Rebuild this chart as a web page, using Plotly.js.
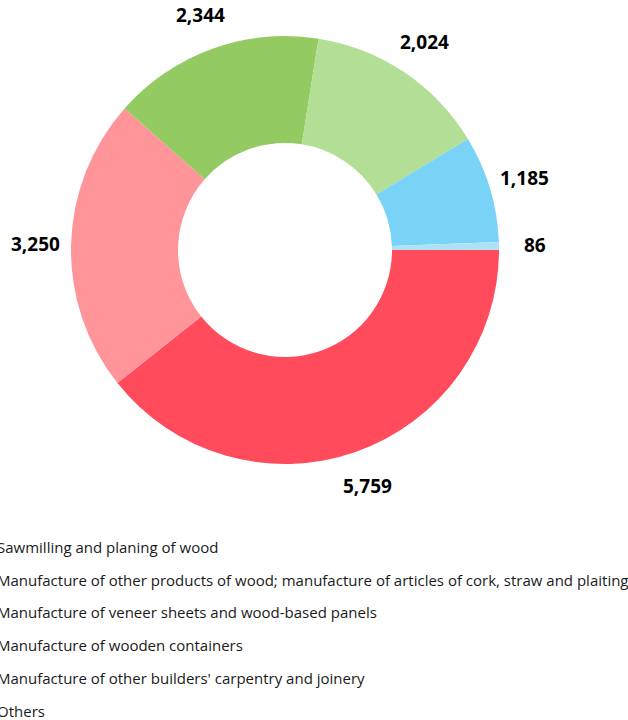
<!DOCTYPE html>
<html>
<head>
<meta charset="utf-8">
<script src="https://cdn.plot.ly/plotly-3.0.1.min.js"></script>
<style>html,body{margin:0;padding:0;background:#fff;} #chart{width:628px;height:720px;}</style>
</head>
<body>
<div id="chart"></div>
<script>
const labels = [
  "Sawmilling and planing of wood",
  "Manufacture of other products of wood; manufacture of articles of cork, straw and plaiting materials",
  "Manufacture of veneer sheets and wood-based panels",
  "Manufacture of wooden containers",
  "Manufacture of other builders' carpentry and joinery",
  "Others"
];
const values = [5759, 3250, 2344, 2024, 1185, 86];
const colors = ["#FF4B5C", "#FF9599", "#93CB62", "#B2DE95", "#79D3F7", "#AEE1F3"];

const W = 628, H = 720;
const cx = 285, cy = 250, R = 214;
const labelR = 250;
const startDeg = 90;
const legendTop = 547, legendStep = 32.7, legendX = -5;

const trace = {
  type: "pie",
  labels: labels,
  values: values,
  sort: false,
  direction: "clockwise",
  rotation: startDeg,
  hole: 0.5,
  marker: {colors: colors, line: {color: "#ffffff", width: 0}},
  textinfo: "none",
  showlegend: false,
  hoverinfo: "label+value",
  domain: {x: [(cx - R) / W, (cx + R) / W], y: [1 - (cy + R) / H, 1 - (cy - R) / H]}
};

// value labels placed on each slice's mid-angle, outside the ring
const total = values.reduce((a, b) => a + b, 0);
let cum = 0;
const valueAnnots = values.map(v => {
  const mid = startDeg + (cum + v / 2) / total * 360;
  cum += v;
  const a = mid * Math.PI / 180;
  const px = cx + labelR * Math.sin(a);
  const py = cy - labelR * Math.cos(a);
  return {
    xref: "paper", yref: "paper", x: px / W, y: 1 - py / H,
    xanchor: "center", yanchor: "middle", showarrow: false,
    text: "<b>" + v.toLocaleString("en-US") + "</b>",
    font: {family: "Open Sans, sans-serif", size: 19, color: "#000000"}
  };
});

const legendAnnots = labels.map((l, i) => ({
  xref: "paper", yref: "paper",
  x: legendX / W, y: 1 - (legendTop + i * legendStep) / H,
  xanchor: "left", yanchor: "middle",
  text: l, showarrow: false,
  font: {family: "Open Sans, sans-serif", size: 15, color: "#1a1a1a"}
}));

Plotly.newPlot("chart", [trace], {
  width: W, height: H,
  margin: {l: 0, r: 0, t: 0, b: 0, autoexpand: false},
  paper_bgcolor: "#ffffff",
  showlegend: false,
  annotations: valueAnnots.concat(legendAnnots)
}, {displayModeBar: false, staticPlot: true});
</script>
</body>
</html>
